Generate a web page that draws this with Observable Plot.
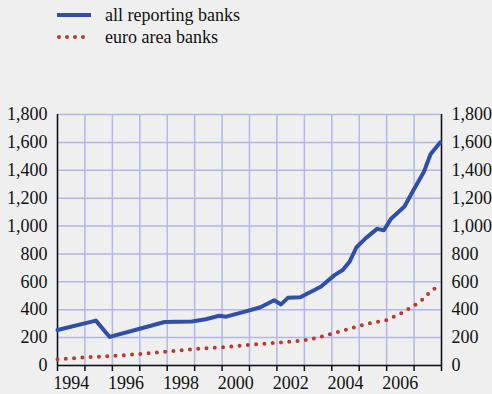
<!DOCTYPE html>
<html>
<head>
<meta charset="utf-8">
<script src="https://cdn.jsdelivr.net/npm/d3@7"></script>
<script src="https://cdn.jsdelivr.net/npm/@observablehq/plot@0.6"></script>
<style>
  html, body { margin: 0; padding: 0; background: #efefef; }
  body { width: 492px; height: 394px; overflow: hidden; font-family: "Liberation Serif", serif; }
  #legend { position: relative; height: 50px; }
  .row { position: absolute; left: 57px; height: 22px; display: flex; align-items: center; font-size: 18px; color: #111; font-family: "Liberation Serif", serif; }
  .row svg { margin-right: 14px; }
</style>
</head>
<body>
<div id="legend">
  <div class="row" style="top:4px">
    <svg width="34" height="8"><line x1="0" y1="4" x2="34" y2="4" stroke="#3050a8" stroke-width="4"/></svg>
    <span>all reporting banks</span>
  </div>
  <div class="row" style="top:26px">
    <svg width="34" height="8"><line x1="2" y1="4" x2="34" y2="4" stroke="#b83a2e" stroke-width="4" stroke-linecap="round" stroke-dasharray="0 8"/></svg>
    <span>euro area banks</span>
  </div>
</div>
<div id="chart"></div>
<script>
const allDates = [1994.0, 1995.4, 1995.9, 1996.9, 1997.9, 1998.9, 1999.4, 1999.9, 2000.15, 2000.9, 2001.4, 2001.9, 2002.15, 2002.4, 2002.85, 2003.6, 2004.1, 2004.4, 2004.65, 2004.9, 2005.25, 2005.65, 2005.9, 2006.15, 2006.65, 2006.95, 2007.35, 2007.6, 2007.95];
const allValues = [255, 322, 205, 258, 312, 316, 332, 357, 350, 390, 418, 468, 438, 485, 490, 565, 648, 685, 745, 848, 915, 980, 970, 1050, 1140, 1248, 1385, 1515, 1600];

const euroDates = [1994.0, 1995.0, 1996.0, 1997.0, 1998.0, 1999.0, 2000.0, 2001.0, 2002.0, 2002.75, 2003.0, 2003.5, 2004.0, 2004.5, 2005.0, 2005.5, 2006.0, 2006.5, 2007.0, 2007.25, 2007.5, 2007.75, 2007.95];
const euroValues = [45, 58, 68, 82, 100, 118, 130, 148, 163, 175, 180, 200, 228, 255, 285, 308, 325, 372, 430, 462, 512, 552, 566];

const yearTicks = d3.range(1994, 2009);
const xTickLabels = [1994, 1996, 1998, 2000, 2002, 2004, 2006];
const yTicks = [0, 200, 400, 600, 800, 1000, 1200, 1400, 1600, 1800];

const allData = allDates.map((d, i) => ({x: d, y: allValues[i]}));
const euroData = euroDates.map((d, i) => ({x: d, y: euroValues[i]}));

const gridColor = "#b3b7ea";
const plot = Plot.plot({
  width: 492,
  height: 344,
  marginTop: 64,
  marginBottom: 29,
  marginLeft: 57,
  marginRight: 51,
  style: {background: "#efefef", fontFamily: "'Liberation Serif', serif", fontSize: "18px", color: "#111", overflow: "visible"},
  x: {domain: [1994, 2008]},
  y: {domain: [0, 1800]},
  marks: [
    Plot.gridX(yearTicks, {stroke: gridColor, strokeOpacity: 1, strokeWidth: 1.5}),
    Plot.gridY(yTicks, {stroke: gridColor, strokeOpacity: 1, strokeWidth: 1.5}),
    Plot.axisY(yTicks, {anchor: "left", tickSize: 0, tickPadding: 10, tickFormat: d3.format(","), label: null, fontSize: 18}),
    Plot.axisY(yTicks, {anchor: "right", tickSize: 0, tickPadding: 10, tickFormat: d3.format(","), label: null, fontSize: 18}),
    Plot.axisX(yearTicks, {anchor: "bottom", tickSize: 6, tickFormat: () => "", label: null, strokeWidth: 1.5, stroke: "#111"}),
    Plot.text(xTickLabels, {x: d => d + 0.5, y: 0, dy: 18, text: d => String(d), fill: "#111", fontSize: 18}),
    Plot.ruleX([1994, 2008], {stroke: "#111", strokeWidth: 1.5}),
    Plot.ruleY([0], {stroke: "#111", strokeWidth: 1.5}),
    Plot.line(euroData, {x: "x", y: "y", stroke: "#b83a2e", strokeWidth: 4, strokeLinecap: "round", strokeDasharray: "0 8.3"}),
    Plot.line(allData, {x: "x", y: "y", stroke: "#3050a8", strokeWidth: 4})
  ]
});
document.getElementById("chart").appendChild(plot);
</script>
</body>
</html>
